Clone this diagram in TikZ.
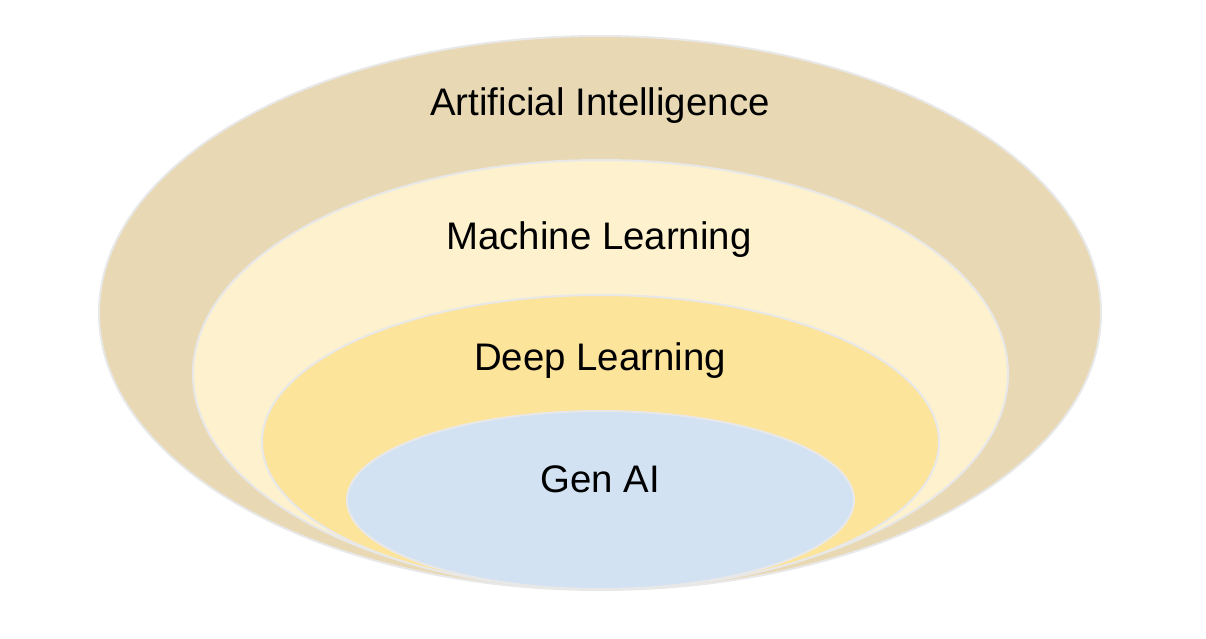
\documentclass[tikz,border=0pt]{standalone}
\usepackage{xcolor}
\usepackage{fontspec}
\setmainfont{Liberation Sans}
\usepackage{tikz}

\definecolor{aicolor}{HTML}{E8D9B4}
\definecolor{mlcolor}{HTML}{FDF1CE}
\definecolor{dlcolor}{HTML}{FDE49B}
\definecolor{gencolor}{HTML}{D2E2F3}
\definecolor{rimcolor}{HTML}{E8E8E8}

\begin{document}
\begin{tikzpicture}[x=1pt, y=-1pt,
    layer/.style={line width=2pt, draw=rimcolor},
    label/.style={anchor=base, inner sep=0pt, font=\fontsize{38.4}{46}\selectfont}]
    \useasboundingbox (0,0) rectangle (1206,638);
    \draw[layer, fill=aicolor](600,313) ellipse [x radius=501pt, y radius=277pt];
    \draw[layer, fill=mlcolor](600.5,374) ellipse [x radius=407.5pt, y radius=214pt];
    \draw[layer, fill=dlcolor](600.5,442) ellipse [x radius=338.5pt, y radius=147pt];
    \draw[layer, fill=gencolor](600.5,500) ellipse [x radius=253.5pt, y radius=89pt];
    \node[label] (ai) at (600,115) {Artificial Intelligence};
    \node[label] (ml) at (599,249) {Machine Learning};
    \node[label] (dl) at (600,370) {Deep Learning};
    \node[label] (gen) at (600,492) {Gen AI};
\end{tikzpicture}
\end{document}
